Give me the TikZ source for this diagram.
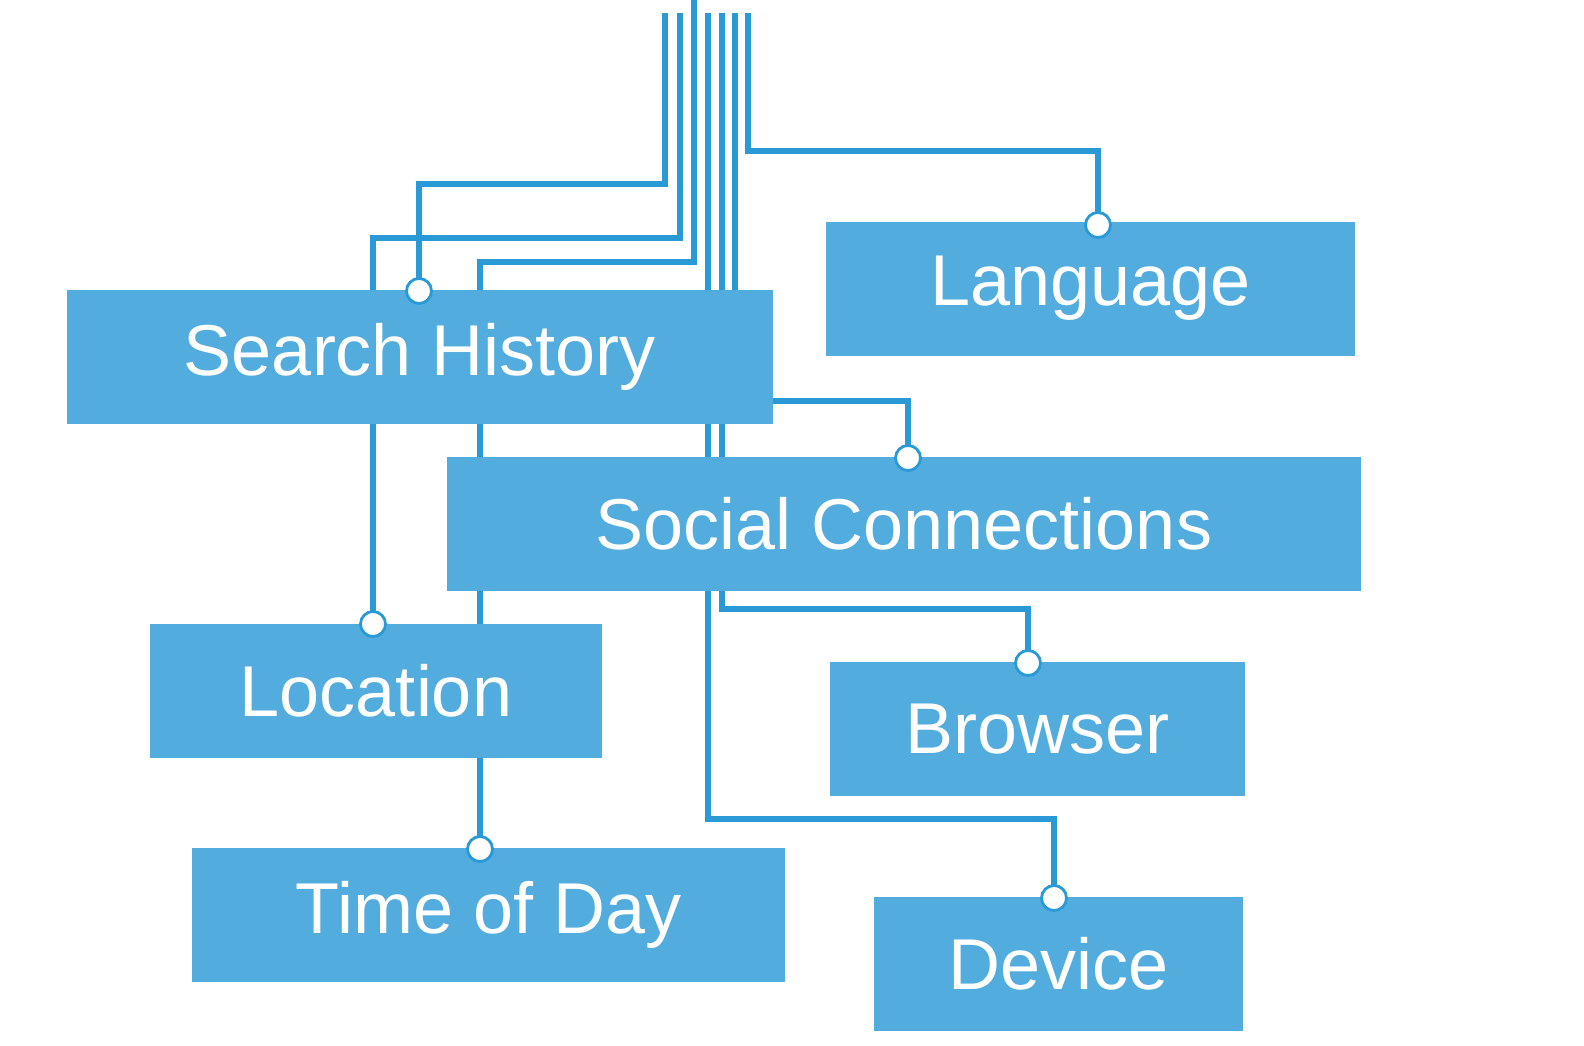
\documentclass[tikz,border=0pt]{standalone}
\usepackage{fontspec}
\setmainfont{Liberation Sans}
\usepackage{tikz}
\usetikzlibrary{positioning, backgrounds}
\definecolor{boxblue}{HTML}{52ACDE}
\definecolor{wireblue}{HTML}{2A9AD7}

\begin{document}
\begin{tikzpicture}[x=0.5pt, y=-0.5pt,
  factor/.style={fill=boxblue, text=white, inner sep=0pt, minimum height=67pt,
                 font=\fontsize{36}{40}\selectfont},
  dot/.style={circle, draw=wireblue, line width=1.4pt, fill=white, minimum size=12.5pt, inner sep=0pt},
  wire/.style={draw=wireblue, line width=3pt},
]
  \useasboundingbox (0,0) rectangle (1584,1045);

  % factor boxes
  \node[factor, minimum width=264.5pt] (lang) at (1090.5,288.5) {Language};
  \node[factor, minimum width=353pt]   (sh)   at (420,357)      {Search History};
  \node[factor, minimum width=457pt]   (sc)   at (904,524)      {Social Connections};
  \node[factor, minimum width=226pt]   (loc)  at (376,691)      {Location};
  \node[factor, minimum width=207.5pt] (brw)  at (1037.5,729)   {Browser};
  \node[factor, minimum width=296.5pt] (tod)  at (488.5,915)    {Time of Day};
  \node[factor, minimum width=184.5pt] (dev)  at (1058.5,964)   {Device};

  % connection points
  \node[dot] (dlang) at (1098,225) {};
  \node[dot] (dsh)   at (419,291)  {};
  \node[dot] (dsc)   at (908,458)  {};
  \node[dot] (dloc)  at (373,624)  {};
  \node[dot] (dbrw)  at (1028,663) {};
  \node[dot] (dtod)  at (480,849)  {};
  \node[dot] (ddev)  at (1054,898) {};

  % bus at the top
  \coordinate (b1) at (665,13);
  \coordinate (b2) at (680,13);
  \coordinate (b3) at (694,0);
  \coordinate (b4) at (708,13);
  \coordinate (b5) at (722,13);
  \coordinate (b6) at (735,13);
  \coordinate (b7) at (748,13);

  \begin{scope}[on background layer]
    \draw[wire] (b1) -- ++(0,171) -| (dsh.center);
    \draw[wire] (b2) -- ++(0,225) -| (dloc.center);
    \draw[wire] (b3) -- ++(0,262) -| (dtod.center);
    \draw[wire] (b4) -- ++(0,806) -| (ddev.center);
    \draw[wire] (b5) -- ++(0,596) -| (dbrw.center);
    \draw[wire] (b6) -- ++(0,388) -| (dsc.center);
    \draw[wire] (b7) -- ++(0,138) -| (dlang.center);
  \end{scope}
\end{tikzpicture}
\end{document}
